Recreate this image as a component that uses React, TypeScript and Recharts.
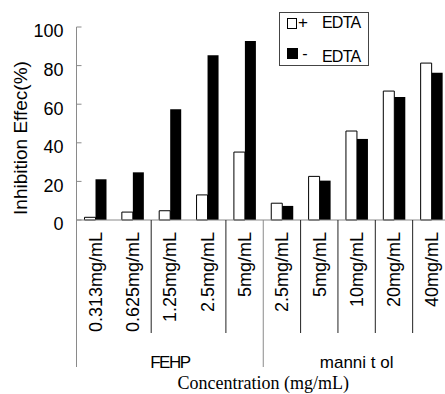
import React from "react";
import { BarChart, Bar, XAxis, YAxis, Legend } from "recharts";

const categories = ["0.313mg/mL", "0.625mg/mL", "1.25mg/mL", "2.5mg/mL", "5mg/mL", "2.5mg/mL", "5mg/mL", "10mg/mL", "20mg/mL", "40mg/mL"];
const groupNames = ["FEHP", "manni t ol"];
const groupSizes = [5, 5];
const withEdta = [1.4, 4.1, 4.8, 13, 35.2, 8.7, 22.6, 46.1, 66.8, 81.3];
const withoutEdta = [21.1, 24.7, 57.4, 85.3, 92.7, 7.3, 20.4, 42, 63.7, 76.3];
const yTicks = [0, 20, 40, 60, 80, 100];

const data = categories.map((label, i) => ({ label, plus: withEdta[i], minus: withoutEdta[i] }));

const CHART_W = 450;
const CHART_H = 394;
const Y_AXIS_W = 76.5;
const TOP = 27;
const X_AXIS_H = 174;
const BAND = (CHART_W - Y_AXIS_W) / categories.length;
const darkDividers = [2, 4, 6, 7, 8, 9];
const SANS = "'Liberation Sans', Arial, sans-serif";
const AXIS_GRAY = "#8a8a8a";

const groupStarts: number[] = [];
groupSizes.reduce((acc, s) => {
  groupStarts.push(acc);
  return acc + s;
}, 0);

const XTick = (props: any) => {
  const { x, y, payload, index } = props;
  const i = index ?? payload.index;
  const left = x - BAND / 2;
  const gIdx = groupStarts.indexOf(i);
  return (
    <g>
      {darkDividers.includes(i) && (
        <line x1={left} x2={left} y1={y} y2={y + 113} stroke="#222" strokeWidth={1} />
      )}
      {gIdx >= 0 && (
        <g>
          <line x1={left} x2={left} y1={y} y2={y + 147} stroke={AXIS_GRAY} strokeWidth={1} />
          <text
            x={left + (groupSizes[gIdx] * BAND) / 2}
            y={y + 148}
            textAnchor="middle"
            fontFamily={SANS}
            fontSize={17}
            letterSpacing={gIdx === 0 ? -1.5 : 0}
            fill="#000"
          >
            {groupNames[gIdx]}
          </text>
        </g>
      )}
      <text
        transform={`translate(${x},${y + 12}) rotate(-90)`}
        textAnchor="end"
        dy="0.36em"
        fontFamily={SANS}
        fontSize={18}
        fill="#000"
      >
        {payload.value}
      </text>
    </g>
  );
};

const YTick = (props: any) => {
  const { x, y, payload } = props;
  return (
    <g>
      <line x1={x} x2={x + 5} y1={y} y2={y} stroke={AXIS_GRAY} strokeWidth={1} />
      <text x={x - 13} y={y + 4} dy="0.35em" textAnchor="end" fontFamily={SANS} fontSize={18} fill="#000">
        {payload.value}
      </text>
    </g>
  );
};

const YLabel = (props: any) => {
  const vb = props.viewBox || { x: 0 };
  const lx = vb.x + 27;
  const ly = 138;
  return (
    <text
      x={lx}
      y={ly}
      transform={`rotate(-90, ${lx}, ${ly})`}
      textAnchor="middle"
      fontFamily={SANS}
      fontSize={19}
      fill="#000"
    >
      Inhibition Effec(%)
    </text>
  );
};

const XLabel = (props: any) => {
  const vb = props.viewBox;
  return (
    <text
      x={vb.x + vb.width / 2}
      y={vb.y + vb.height - 5}
      textAnchor="middle"
      fontFamily="'Liberation Serif', 'Times New Roman', serif"
      fontSize={18}
      fill="#000"
    >
      Concentration (mg/mL)
    </text>
  );
};

const LegendBox = (props: any) => {
  const payload = props.payload || [];
  return (
    <svg width={90} height={54} style={{ display: "block" }}>
      <rect x={0.5} y={0.5} width={89} height={53} fill="#fff" stroke="#444" strokeWidth={1} />
      {payload.map((entry: any, i: number) => {
        const name: string = entry.value;
        const sym = name.charAt(0);
        const rest = name.slice(1).trim();
        const isWhite = i === 0;
        return (
          <g key={i}>
            {isWhite ? (
              <rect x={8.5} y={6.5} width={9} height={10} fill="#fff" stroke="#000" strokeWidth={1} />
            ) : (
              <rect x={8} y={36} width={11} height={11} fill="#000" />
            )}
            <text
              x={isWhite ? 24 : 26}
              y={isWhite ? 16 : 47}
              textAnchor="middle"
              fontFamily={SANS}
              fontSize={isWhite ? 17 : 16}
              fill="#000"
            >
              {sym}
            </text>
            <text x={43} y={isWhite ? 16 : 50} fontFamily={SANS} fontSize={16} letterSpacing={-0.8} fill="#000">
              {rest}
            </text>
          </g>
        );
      })}
    </svg>
  );
};

export default function App() {
  return (
    <div
      style={{
        position: "absolute",
        left: 0,
        top: 0,
        width: 445,
        height: 394,
        overflow: "hidden",
        background: "#fff",
      }}
    >
      <BarChart
        width={CHART_W}
        height={CHART_H}
        data={data}
        margin={{ top: TOP, right: 0, bottom: 0, left: 0 }}
        barGap={0}
        barSize={11}
      >
        <XAxis
          dataKey="label"
          interval={0}
          height={X_AXIS_H}
          tickSize={0}
          tickMargin={0}
          tickLine={false}
          axisLine={{ stroke: AXIS_GRAY }}
          tick={(p: any) => <XTick {...p} />}
          label={<XLabel />}
        />
        <YAxis
          width={Y_AXIS_W}
          domain={[0, 100]}
          ticks={yTicks}
          interval={0}
          tickSize={0}
          tickMargin={0}
          tickLine={false}
          axisLine={{ stroke: AXIS_GRAY }}
          tick={(p: any) => <YTick {...p} />}
          label={<YLabel />}
        />
        <Legend
          layout="horizontal"
          verticalAlign="middle"
          align="center"
          content={(p: any) => <LegendBox {...p} />}
          wrapperStyle={{ left: 279, top: 12, width: 90, height: 54 }}
        />
        <Bar dataKey="plus" name="+ EDTA" fill="#fff" stroke="#000" strokeWidth={1} isAnimationActive={false} />
        <Bar dataKey="minus" name="- EDTA" fill="#000" isAnimationActive={false} />
      </BarChart>
    </div>
  );
}
